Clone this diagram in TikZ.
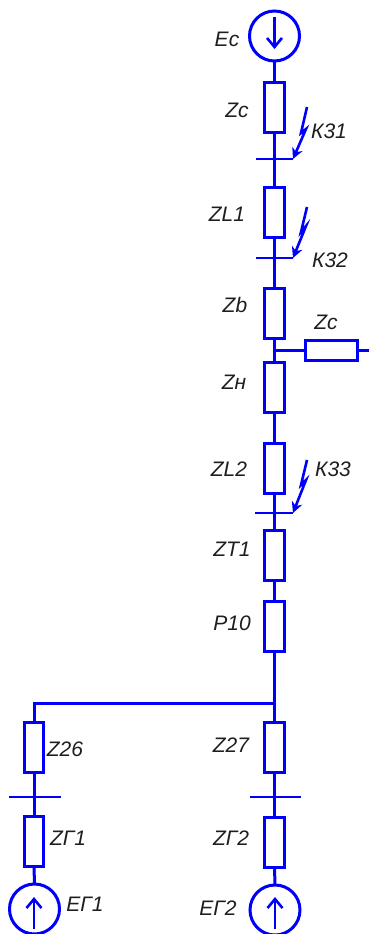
\documentclass[tikz,border=0pt]{standalone}
\usepackage{fontspec}
\setmainfont{Liberation Sans}
\usetikzlibrary{arrows.meta}
\definecolor{wire}{RGB}{0,0,250}
\definecolor{ink}{RGB}{30,30,30}
\tikzset{
  wireline/.style={draw=wire,line width=3bp},
  vbox/.style={wireline,rectangle,fill=white,inner sep=0pt,outer sep=0pt,minimum width=19.5bp,minimum height=50bp},
  hbox/.style={wireline,rectangle,fill=white,inner sep=0pt,outer sep=0pt,minimum width=52bp,minimum height=19.5bp},
  source/.style={wireline,circle,inner sep=0pt,outer sep=0pt,minimum size=50bp},
  busbar/.style={wireline,line width=2.6bp},
  emfarrow/.style={wireline,line width=2.6bp,-{Straight Barb[length=9bp,width=15bp,line width=2.6bp]}},
  bolt/.style={draw=wire,line width=2.6bp,-{Stealth[length=11bp,width=11bp]}},
  lbl/.style={inner sep=0pt,text=ink,text height=14bp,text depth=0pt,font=\fontsize{21bp}{21bp}\selectfont\itshape}
}
\begin{document}
\begin{tikzpicture}[x=1bp,y=-1bp]
\useasboundingbox (0,0) rectangle (369,934);
% sources
\node[source] (es) at (274.5,36) {};
\node[source] (eg1) at (34.5,909) {};
\node[source] (eg2) at (275,910) {};
% vertical chain boxes
\node[vbox] (zc) at (274.5,107.5) {};
\node[vbox] (zl1) at (274.5,212.5) {};
\node[vbox] (zb) at (274.5,313.5) {};
\node[vbox] (zn) at (274.5,387.5) {};
\node[vbox] (zl2) at (274.5,468) {};
\node[vbox] (zt1) at (274.5,555.5) {};
\node[vbox] (p10) at (274.5,626.5) {};
\node[vbox] (z27) at (274.5,747.5) {};
\node[vbox] (zg2) at (274.5,842) {};
\node[vbox] (z26) at (34,747.5) {};
\node[vbox] (zg1) at (34,841.5) {};
\node[hbox] (zs) at (331.5,350.5) {};
% named points
\coordinate (j1) at (zb.south |- zs.west);
\coordinate (j2) at (274.5,703);
\coordinate (c2) at (34,703);
\coordinate (zsend) at (369,350.5);
\coordinate (b1l) at (256,159); \coordinate (b1r) at (293,159);
\coordinate (b2l) at (256,258); \coordinate (b2r) at (293,258);
\coordinate (b3l) at (255,513); \coordinate (b3r) at (293,513);
\coordinate (b4l) at (9,797); \coordinate (b4r) at (61,797);
\coordinate (b5l) at (250,797); \coordinate (b5r) at (301,797);
% wires
\draw[wireline] (es.south) -- (zc.north);
\draw[wireline] (zc.south) -- (zl1.north);
\draw[wireline] (zl1.south) -- (zb.north);
\draw[wireline] (zb.south) -- (zn.north);
\draw[wireline] (zn.south) -- (zl2.north);
\draw[wireline] (zl2.south) -- (zt1.north);
\draw[wireline] (zt1.south) -- (p10.north);
\draw[wireline] (p10.south) -- (j2) -- (z27.north);
\draw[wireline] (z27.south) -- (zg2.north);
\draw[wireline] (zg2.south) -- (eg2.north);
\draw[wireline] (j2) -- (c2) -- (z26.north);
\draw[wireline] (z26.south) -- (zg1.north);
\draw[wireline] (zg1.south) -- (eg1.north);
\draw[wireline] (j1) -- (zs.west);
\draw[wireline] (zs.east) -- (zsend);
% busbars
\draw[busbar] (b1l) -- (b1r);
\draw[busbar] (b2l) -- (b2r);
\draw[busbar] (b3l) -- (b3r);
\draw[busbar] (b4l) -- (b4r);
\draw[busbar] (b5l) -- (b5r);
% EMF arrows
\coordinate (a1s) at (274.5,17); \coordinate (a1e) at (274.5,49);
\coordinate (a2s) at (34,929); \coordinate (a2e) at (34,897);
\coordinate (a3s) at (275,929); \coordinate (a3e) at (275,897);
\draw[emfarrow] (a1s) -- (a1e);
\draw[emfarrow] (a2s) -- (a2e);
\draw[emfarrow] (a3s) -- (a3e);
% fault bolts
\coordinate (k1a) at (307,107); \coordinate (k1b) at (301,133); \coordinate (k1c) at (306,129);
\coordinate (k2a) at (307,207); \coordinate (k2b) at (301,232); \coordinate (k2c) at (306,226);
\coordinate (k3a) at (307,460); \coordinate (k3b) at (301,485); \coordinate (k3c) at (306,480);
\draw[bolt] (k1a) -- (k1b) -- (k1c) -- (b1r);
\draw[bolt] (k2a) -- (k2b) -- (k2c) -- (b2r);
\draw[bolt] (k3a) -- (k3b) -- (k3c) -- (b3r);
% labels
\node[lbl] (tes) at (227,39) {Ec};
\node[lbl] (tzc) at (237,110) {Zc};
\node[lbl] (tk1) at (329,131) {К31};
\node[lbl] (tzl1) at (227,214) {ZL1};
\node[lbl] (tk2) at (330,260) {К32};
\node[lbl] (tzb) at (235,305) {Zb};
\node[lbl] (tzs) at (326,322) {Zc};
\node[lbl] (tzn) at (234,382) {Zн};
\node[lbl] (tzl2) at (229,469) {ZL2};
\node[lbl] (tk3) at (333,469) {К33};
\node[lbl] (tzt) at (232,549) {ZT1};
\node[lbl] (tp) at (232,623) {P10};
\node[lbl] (tz26) at (65,749) {Z26};
\node[lbl] (tz27) at (231,745) {Z27};
\node[lbl] (tzg1) at (68,838) {ZГ1};
\node[lbl] (tzg2) at (231,838) {ZГ2};
\node[lbl] (teg1) at (85,904) {EГ1};
\node[lbl] (teg2) at (218,908) {EГ2};
\end{tikzpicture}
\end{document}
